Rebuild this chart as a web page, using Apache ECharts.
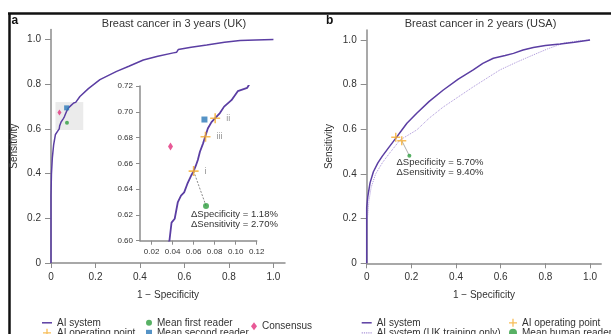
<!DOCTYPE html>
<html>
<head>
<meta charset="utf-8">
<script src="https://cdn.jsdelivr.net/npm/echarts@6/dist/echarts.min.js"></script>
<style>
  html, body { margin: 0; background: #fff; }
  #chart { width: 611px; height: 334px; }
</style>
</head>
<body>
<div id="chart"></div>
<script>
// panel a: UK, 3-year ROC (one curve, shared by main plot and inset)
const ukX = [0, 0, 0.002, 0.006, 0.012, 0.02, 0.03, 0.037, 0.039, 0.042, 0.045, 0.048, 0.051, 0.054, 0.058, 0.060,
  0.062, 0.064, 0.066, 0.069, 0.071, 0.0735, 0.077, 0.0805, 0.085, 0.089, 0.096, 0.102, 0.111, 0.13, 0.168, 0.22,
  0.295, 0.35, 0.415, 0.48, 0.55, 0.565, 0.572, 0.63, 0.70, 0.78, 0.85, 0.92, 1.0];
const ukY = [0, 0.30, 0.40, 0.47, 0.53, 0.575, 0.59, 0.60, 0.614, 0.617, 0.630, 0.635, 0.6375, 0.644, 0.651, 0.654,
  0.658, 0.6626, 0.669, 0.6755, 0.6806, 0.687, 0.692, 0.695, 0.699, 0.704, 0.709, 0.716, 0.7186, 0.745, 0.78, 0.82,
  0.857, 0.88, 0.908, 0.925, 0.94, 0.943, 0.955, 0.965, 0.975, 0.987, 0.995, 0.998, 1.0];
const ukOpPoints = [[0.060, 0.654], [0.0805, 0.695], [0.0713, 0.6806]];
const ukOpLabels = ["i", "ii", "iii"];
const ukFirstReader = [0.0718, 0.627];
const ukSecondReader = [0.0703, 0.694];
const ukConsensus = [0.038, 0.673];
const ukBox = [[0.02, 0.595], [0.145, 0.72]];

// panel b: USA, 2-year ROC
const usX = [0, 0, 0.005, 0.015, 0.03, 0.05, 0.07, 0.10, 0.134, 0.16, 0.18, 0.224, 0.28, 0.343, 0.41, 0.477,
  0.52, 0.567, 0.62, 0.657, 0.70, 0.746, 0.80, 0.866, 0.93, 1.0];
const usY = [0, 0.25, 0.30, 0.36, 0.41, 0.45, 0.48, 0.52, 0.565, 0.60, 0.627, 0.672, 0.725, 0.776, 0.825, 0.866,
  0.895, 0.918, 0.93, 0.94, 0.955, 0.966, 0.975, 0.982, 0.99, 1.0];
const usUkOnlyX = [0, 0, 0.005, 0.01, 0.02, 0.04, 0.07, 0.10, 0.149, 0.224, 0.28, 0.343, 0.41, 0.477, 0.54, 0.597,
  0.67, 0.746, 0.81, 0.88, 0.94, 1.0];
const usUkOnlyY = [0, 0.17, 0.22, 0.28, 0.34, 0.40, 0.45, 0.49, 0.552, 0.597, 0.65, 0.70, 0.745, 0.79, 0.83, 0.866,
  0.90, 0.933, 0.96, 0.985, 0.995, 1.0];
const usOpPoints = [[0.13, 0.564], [0.157, 0.549]];
const usHumanReader = [0.191, 0.482];

const mainTicks = [0, 0.2, 0.4, 0.6, 0.8, 1.0];
const insetXTicks = [0.02, 0.04, 0.06, 0.08, 0.10, 0.12];
const insetYTicks = [0.60, 0.62, 0.64, 0.66, 0.68, 0.70, 0.72];

const FONT = '"Liberation Sans", Arial, sans-serif';
const TEXT = "#333";
const AXIS_GREY = "#8c8c8c";
const DARK = "#5b3ea3";
const LIGHT = "#a993d8";
const ORANGE = "#f5ad2e";
const GREEN = "#2e9e3e";
const BLUE = "#2b78b8";
const PINK = "#e2307c";
const PLUS = "path://M4.2,0 H5.8 V4.2 H10 V5.8 H5.8 V10 H4.2 V5.8 H0 V4.2 H4.2 Z";
const SOLID_ICON = "path://M0,0 H10 V1.5 H0 Z";
const DOTTED_ICON = "path://M0,0 H1.2 V1.2 H0 Z M2.2,0 H3.4 V1.2 H2.2 Z M4.4,0 H5.6 V1.2 H4.4 Z M6.6,0 H7.8 V1.2 H6.6 Z M8.8,0 H10 V1.2 H8.8 Z";

const zip = (xs, ys) => xs.map((x, i) => [x, ys[i]]);
const mainFmt = (v) => (v === 0 ? "0" : v.toFixed(1));
const insetFmt = (v) => v.toFixed(2);

function axis(gridIndex, min, max, ticks, fmt, opts) {
  return Object.assign({
    type: "value",
    gridIndex,
    min,
    max,
    axisLine: { show: true, onZero: false, lineStyle: { color: AXIS_GREY, width: 1.5 } },
    axisTick: { show: true, length: 5, customValues: ticks, lineStyle: { color: AXIS_GREY, width: 1 } },
    axisLabel: { customValues: ticks, formatter: fmt, color: TEXT, fontSize: 10, fontFamily: FONT, margin: 9 },
    splitLine: { show: false },
    nameTextStyle: { color: TEXT, fontSize: 10, fontFamily: FONT },
  }, opts);
}

function legend(left, top, itemWidth, itemHeight, data) {
  return {
    left, top, height: 40, padding: 0, orient: "vertical", itemWidth, itemHeight, itemGap: 0,
    selectedMode: false, textStyle: { color: TEXT, fontSize: 10, lineHeight: 9, fontFamily: FONT }, data,
  };
}

const chart = echarts.init(document.getElementById("chart"), null, { renderer: "canvas" });

chart.setOption({
  animation: false,
  textStyle: { fontFamily: FONT },
  grid: [
    { left: 51, top: 29.4, width: 234, height: 233.6, outerBoundsMode: "none" },
    { left: 140, top: 86, width: 116.7, height: 154.7, outerBoundsMode: "none" },
    { left: 366.7, top: 29.9, width: 234.5, height: 233.4, outerBoundsMode: "none" },
  ],
  xAxis: [
    axis(0, 0, 1.052, mainTicks, mainFmt, { name: "1 − Specificity", nameLocation: "middle", nameGap: 27 }),
    axis(1, 0.009, 0.12, insetXTicks, insetFmt, {
      axisTick: { show: true, length: 4, customValues: insetXTicks, lineStyle: { color: AXIS_GREY, width: 1 } },
      axisLabel: { customValues: insetXTicks, formatter: insetFmt, color: TEXT, fontSize: 8, fontFamily: FONT, margin: 7 },
    }),
    axis(2, 0, 1.05, mainTicks, mainFmt, { name: "1 − Specificity", nameLocation: "middle", nameGap: 27 }),
  ],
  yAxis: [
    axis(0, 0, 1.045, mainTicks, mainFmt, { name: "Sensitivity", nameLocation: "middle", nameGap: 32,
      axisTick: { show: true, length: 6, customValues: mainTicks, lineStyle: { color: AXIS_GREY, width: 1 } },
      axisLabel: { customValues: mainTicks, formatter: mainFmt, color: TEXT, fontSize: 10, fontFamily: FONT, margin: 10 } }),
    axis(1, 0.60, 0.72, insetYTicks, insetFmt, {
      axisTick: { show: true, length: 4, customValues: insetYTicks, lineStyle: { color: AXIS_GREY, width: 1 } },
      axisLabel: { customValues: insetYTicks, formatter: insetFmt, color: TEXT, fontSize: 8, fontFamily: FONT, margin: 7 },
    }),
    axis(2, 0, 1.045, mainTicks, mainFmt, { name: "Sensitivity", nameLocation: "middle", nameGap: 32,
      axisTick: { show: true, length: 6, customValues: mainTicks, lineStyle: { color: AXIS_GREY, width: 1 } },
      axisLabel: { customValues: mainTicks, formatter: mainFmt, color: TEXT, fontSize: 10, fontFamily: FONT, margin: 10 } }),
  ],
  legend: [
    legend(42, 317.8, 10, 8, [{ name: "AI system", icon: SOLID_ICON }, "AI operating point"]),
    legend(146, 317.8, 6, 6, ["Mean first reader", "Mean second reader"]),
    legend(251, 321.2, 6, 8, ["Consensus"]),
    legend(361.7, 317.8, 10, 8, [{ name: "AI system", icon: SOLID_ICON },
      { name: "AI system (UK training only)", icon: DOTTED_ICON }]),
    legend(509, 317.8, 8, 8, ["AI operating point", "Mean human reader"]),
  ],
  graphic: [
    { type: "line", shape: { x1: 8, y1: 13.5, x2: 611, y2: 13.5 }, style: { stroke: "#111", lineWidth: 2.5 } },
    { type: "line", shape: { x1: 9.5, y1: 13, x2: 9.5, y2: 334 }, style: { stroke: "#111", lineWidth: 2.5 } },
    { type: "text", left: 11.5, top: 15, style: { text: "a", font: "bold 12px " + FONT, fill: "#111" } },
    { type: "text", left: 326, top: 14.5, style: { text: "b", font: "bold 12px " + FONT, fill: "#111" } },
    { type: "text", x: 174, y: 24, style: { text: "Breast cancer in 3 years (UK)", font: "11px " + FONT, fill: TEXT,
      align: "center", verticalAlign: "middle" } },
    { type: "text", x: 480.5, y: 24, style: { text: "Breast cancer in 2 years (USA)", font: "11px " + FONT, fill: TEXT,
      align: "center", verticalAlign: "middle" } },
    { type: "text", x: 191, y: 219, style: { text: "ΔSpecificity = 1.18%\nΔSensitivity = 2.70%", font: "9.5px " + FONT,
      fill: TEXT, lineHeight: 10, verticalAlign: "middle" } },
    { type: "text", x: 396.5, y: 167, style: { text: "ΔSpecificity = 5.70%\nΔSensitivity = 9.40%", font: "9.5px " + FONT,
      fill: TEXT, lineHeight: 10, verticalAlign: "middle" } },
  ],
  series: [
    // panel a, main plot
    { name: "AI system", type: "line", xAxisIndex: 0, yAxisIndex: 0, data: zip(ukX, ukY), symbol: "none",
      lineStyle: { color: DARK, width: 1.5 }, itemStyle: { color: DARK }, z: 3,
      markArea: { silent: true, itemStyle: { color: "#ebebeb" },
        data: [[{ coord: ukBox[0] }, { coord: ukBox[1] }]] } },
    { name: "Consensus", type: "scatter", xAxisIndex: 0, yAxisIndex: 0, data: [ukConsensus], symbol: "diamond",
      symbolSize: [4, 6], itemStyle: { color: PINK }, z: 4 },
    { name: "Mean second reader", type: "scatter", xAxisIndex: 0, yAxisIndex: 0, data: [ukSecondReader], symbol: "rect",
      symbolSize: 5, itemStyle: { color: BLUE }, z: 4 },
    { name: "Mean first reader", type: "scatter", xAxisIndex: 0, yAxisIndex: 0, data: [ukFirstReader], symbol: "circle",
      symbolSize: 4, itemStyle: { color: GREEN }, z: 4 },

    // panel a, inset
    { name: "AI system", type: "line", xAxisIndex: 1, yAxisIndex: 1, data: zip(ukX, ukY), symbol: "none",
      lineStyle: { color: DARK, width: 1.8 }, itemStyle: { color: DARK }, z: 3 },
    { type: "line", xAxisIndex: 1, yAxisIndex: 1, data: [ukOpPoints[0], ukFirstReader], symbol: "none",
      lineStyle: { color: "#888", width: 1, type: [2, 1.5] }, z: 2, silent: true },
    { name: "AI operating point", type: "scatter", xAxisIndex: 1, yAxisIndex: 1, symbol: PLUS, symbolSize: 10,
      itemStyle: { color: ORANGE }, z: 5,
      data: ukOpPoints.map((p, i) => ({ value: p, label: { show: true, formatter: ukOpLabels[i] } })),
      label: { position: "right", distance: 6, color: "#777", fontSize: 9, fontFamily: FONT } },
    { name: "Mean second reader", type: "scatter", xAxisIndex: 1, yAxisIndex: 1, data: [ukSecondReader], symbol: "rect",
      symbolSize: 6, itemStyle: { color: BLUE }, z: 4 },
    { name: "Consensus", type: "scatter", xAxisIndex: 1, yAxisIndex: 1, data: [ukConsensus], symbol: "diamond",
      symbolSize: [5, 8], itemStyle: { color: PINK }, z: 4 },
    { name: "Mean first reader", type: "scatter", xAxisIndex: 1, yAxisIndex: 1, data: [ukFirstReader], symbol: "circle",
      symbolSize: 6, itemStyle: { color: GREEN }, z: 4 },

    // panel b
    { name: "AI system (UK training only)", type: "line", xAxisIndex: 2, yAxisIndex: 2, data: zip(usUkOnlyX, usUkOnlyY),
      symbol: "none", lineStyle: { color: LIGHT, width: 1, type: "dotted" }, itemStyle: { color: LIGHT }, z: 2 },
    { name: "AI system", type: "line", xAxisIndex: 2, yAxisIndex: 2, data: zip(usX, usY), symbol: "none",
      lineStyle: { color: DARK, width: 1.5 }, itemStyle: { color: DARK }, z: 3 },
    { type: "line", xAxisIndex: 2, yAxisIndex: 2, data: [usOpPoints[1], usHumanReader], symbol: "none",
      lineStyle: { color: "#999", width: 0.8 }, z: 2, silent: true },
    { name: "AI operating point", type: "scatter", xAxisIndex: 2, yAxisIndex: 2, data: usOpPoints, symbol: PLUS,
      symbolSize: 9, itemStyle: { color: ORANGE }, z: 5 },
    { name: "Mean human reader", type: "scatter", xAxisIndex: 2, yAxisIndex: 2, data: [usHumanReader], symbol: "circle",
      symbolSize: 4, itemStyle: { color: GREEN }, z: 4 },
  ],
});

window.addEventListener("resize", () => chart.resize());
</script>
</body>
</html>
